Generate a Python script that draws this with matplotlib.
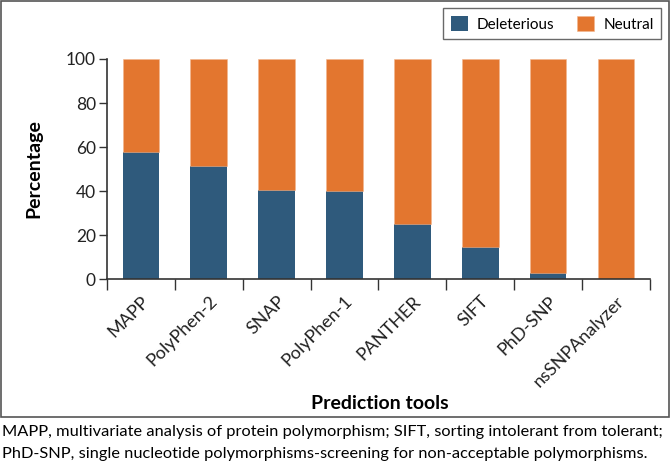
import matplotlib
matplotlib.use("Agg")
import matplotlib.pyplot as plt
from matplotlib.patches import Rectangle
import numpy as np

plt.rcParams['font.family'] = ['Lato', 'DejaVu Sans']

tools = ["MAPP", "PolyPhen-2", "SNAP", "PolyPhen-1", "PANTHER", "SIFT", "PhD-SNP", "nsSNPAnalyzer"]
deleterious = [58, 51.5, 40.5, 40, 25, 14.5, 3, 0]
neutral = [100 - d for d in deleterious]
yticks = [0, 20, 40, 60, 80, 100]

blue = "#2F5A7C"
orange = "#E3762F"
axcol = "#333333"

fig = plt.figure(figsize=(6.7, 4.67), dpi=100)
ax = fig.add_axes([0.1597, 0.4019, 0.8103, 0.4718])

x = np.arange(len(tools))
w = 0.54
ax.bar(x, deleterious, width=w, color=blue, linewidth=0, label="Deleterious")
ax.bar(x, neutral, width=w, bottom=deleterious, color=orange, edgecolor="#F2B58E", linewidth=0.4, label="Neutral")

ax.set_xlim(-0.5, len(tools) - 0.5)
ax.set_ylim(0, 100)
ax.set_yticks(yticks)
ax.set_yticklabels([str(v) for v in yticks], fontsize=12.5, color="#222222")
ax.tick_params(axis='y', direction='out', length=6, width=1, color=axcol, pad=2)

ax.set_xticks(x)
ax.set_xticklabels(tools, rotation=45, ha='right', va='top', rotation_mode='anchor', fontsize=13, color="#222222")
ax.tick_params(axis='x', which='major', length=0, pad=10)
ax.set_xticks(np.arange(-0.5, len(tools)), minor=True)
ax.tick_params(axis='x', which='minor', direction='out', length=8, width=1, color=axcol)

for s in ['top', 'right']:
    ax.spines[s].set_visible(False)
for s in ['left', 'bottom']:
    ax.spines[s].set_color(axcol)
    ax.spines[s].set_linewidth(1.2)

fig.text(0.051, 0.638, "Percentage", fontsize=14, fontweight='bold', ha='center', va='center', rotation=90)
fig.text(0.567, 0.137, "Prediction tools", fontsize=14, fontweight='bold', ha='center', va='center')

leg = fig.legend(loc='upper right', bbox_to_anchor=(0.987, 0.983), ncol=2, frameon=True, fancybox=False,
                 fontsize=11, handlelength=1.1, handleheight=1.2, columnspacing=1.5, handletextpad=0.6,
                 borderpad=0.5, borderaxespad=0)
leg.get_frame().set_edgecolor("#444444")
leg.get_frame().set_linewidth(1.0)

fig.patches.append(Rectangle((0.001, 0.108), 0.997, 0.890, transform=fig.transFigure, fill=False,
                             edgecolor="#555555", linewidth=1.2))

fig.text(0.003, 0.075, "MAPP, multivariate analysis of protein polymorphism; SIFT, sorting intolerant from tolerant;",
         fontsize=11.8, ha='left', va='center')
fig.text(0.003, 0.028, "PhD-SNP, single nucleotide polymorphisms-screening for non-acceptable polymorphisms.",
         fontsize=11.8, ha='left', va='center')

fig.savefig("out.png", dpi=100)
